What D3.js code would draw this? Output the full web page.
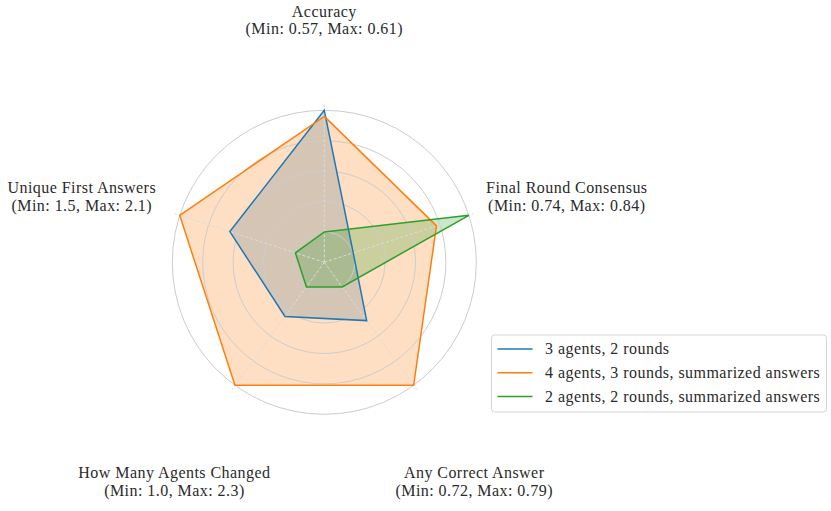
<!DOCTYPE html>
<html>
<head>
    <title>Radar Chart</title>
    <script src="https://d3js.org/d3.v7.min.js"></script>
    <style>
        body { margin: 0; background: white; }
        text { font-family: "Liberation Serif", "Times New Roman", serif; fill: #2a2a2a; letter-spacing: 0.45px; }
    </style>
</head>
<body>
    <svg width="831" height="511"></svg>
    <script>
        // axes, clockwise from the top
        const axes = ["Accuracy", "Final Round Consensus", "Any Correct Answer", "How Many Agents Changed", "Unique First Answers"]
        const minLabels = ["0.57", "0.74", "0.72", "1.0", "1.5"]
        const maxLabels = ["0.61", "0.84", "0.79", "2.3", "2.1"]

        const seriesNames = ["3 agents, 2 rounds", "4 agents, 3 rounds, summarized answers", "2 agents, 2 rounds, summarized answers"]
        const blueValues = [0.61, 0.74, 0.744, 1.39, 1.84]
        const orangeValues = [0.608, 0.812, 0.79, 2.3, 2.1]
        const greenValues = [0.57, 0.84, 0.72, 1.0, 1.5]
        const colors = ["#1f77b4", "#ff7f0e", "#2ca02c"]

        const gridLevels = [0.2, 0.4, 0.6, 0.8, 1.0]

        const width = 831
        const height = 511
        const cx = 324.3
        const cy = 262.3
        const maxR = 152
        const labelR = 255

        const svg = d3.select("svg")
            .attr("width", width)
            .attr("height", height)

        const allSeries = [blueValues, orangeValues, greenValues]

        // each axis is scaled on its own: min -> 0.2, max -> 1.0
        const axisScales = axes.map(function(a, i) {
            const ext = d3.extent(allSeries, function(s) { return s[i] })
            return d3.scaleLinear().domain(ext).range([0.2, 1.0])
        })

        const r = d3.scaleLinear().domain([0, 1]).range([0, maxR])
        const angle = d3.scaleLinear().domain([0, axes.length]).range([0, 2 * Math.PI])

        const g = svg.append("g")
            .attr("transform", "translate(" + cx + "," + cy + ")")

        const line = d3.lineRadial()
            .angle(function(d, i) { return angle(i) })
            .radius(function(d, i) { return r(axisScales[i](d)) })
            .curve(d3.curveLinearClosed)

        // fills first
        allSeries.forEach(function(s, k) {
            g.append("path")
                .datum(s)
                .attr("d", line)
                .attr("fill", colors[k])
                .attr("fill-opacity", 0.25)
                .attr("stroke", "none")
        })

        // grid circles
        g.selectAll(".ring")
            .data(gridLevels)
            .enter().append("circle")
            .attr("class", "ring")
            .attr("r", function(d) { return r(d) })
            .attr("fill", "none")
            .attr("stroke", "#cccccc")
            .attr("stroke-width", 1)

        // spokes
        g.selectAll(".spoke")
            .data(axes)
            .enter().append("line")
            .attr("class", "spoke")
            .attr("x1", 0).attr("y1", 0)
            .attr("x2", function(d, i) { return r(1.035) * Math.sin(angle(i)) })
            .attr("y2", function(d, i) { return -r(1.035) * Math.cos(angle(i)) })
            .attr("stroke", "#dddddd")
            .attr("stroke-width", 1)
            .attr("stroke-dasharray", "3,2")

        // outlines
        allSeries.forEach(function(s, k) {
            g.append("path")
                .datum(s)
                .attr("d", line)
                .attr("fill", "none")
                .attr("stroke", colors[k])
                .attr("stroke-width", 1.5)
                .attr("stroke-linejoin", "miter")
        })

        // axis labels
        const labels = g.selectAll(".axis-label")
            .data(axes)
            .enter().append("text")
            .attr("class", "axis-label")
            .attr("text-anchor", "middle")
            .style("font-size", "16px")
            .attr("transform", function(d, i) {
                const x = labelR * Math.sin(angle(i))
                const y = -labelR * Math.cos(angle(i))
                return "translate(" + x + "," + (y + 9.5) + ")"
            })

        labels.append("tspan")
            .attr("x", 0)
            .attr("y", 0)
            .text(function(d) { return d })

        labels.append("tspan")
            .attr("x", 0)
            .attr("y", 17.5)
            .text(function(d, i) { return "(Min: " + minLabels[i] + ", Max: " + maxLabels[i] + ")" })

        // legend
        const legend = svg.append("g")
            .attr("transform", "translate(491.5,335)")

        legend.append("rect")
            .attr("width", 335)
            .attr("height", 77)
            .attr("rx", 3)
            .attr("fill", "white")
            .attr("fill-opacity", 0.8)
            .attr("stroke", "#d5d5d5")
            .attr("stroke-width", 1)

        const items = legend.selectAll(".item")
            .data(seriesNames)
            .enter().append("g")
            .attr("class", "item")
            .attr("transform", function(d, i) { return "translate(0," + (14 + i * 23.8) + ")" })

        items.append("line")
            .attr("x1", 6).attr("x2", 41)
            .attr("y1", 0).attr("y2", 0)
            .attr("stroke", function(d, i) { return colors[i] })
            .attr("stroke-width", 1.5)

        items.append("text")
            .attr("x", 53.5)
            .attr("y", 5)
            .style("font-size", "16px")
            .text(function(d) { return d })
    </script>
</body>
</html>
